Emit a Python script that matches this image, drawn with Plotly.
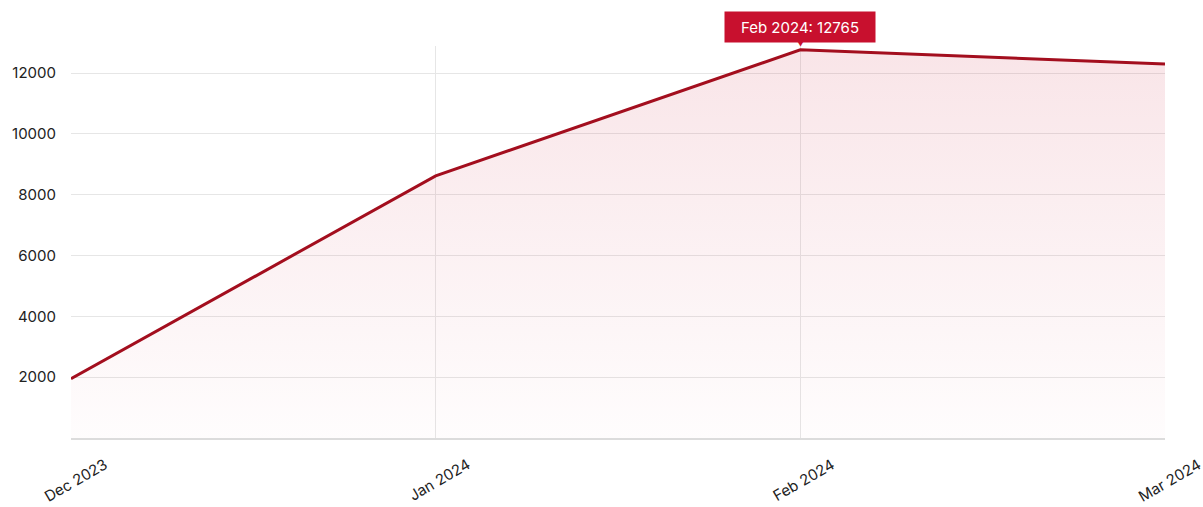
import plotly.graph_objects as go

months = ["Dec 2023", "Jan 2024", "Feb 2024", "Mar 2024"]
values = [1950, 8620, 12765, 12300]
y_ticks = [2000, 4000, 6000, 8000, 10000, 12000]

LINE = "#a30e1e"
TIP = "#c8102e"
FONT = "Inter, Open Sans, sans-serif"

fig = go.Figure()
fig.add_trace(go.Scatter(
    x=months, y=values, mode="lines",
    line=dict(color=LINE, width=3),
    fill="tozeroy",
    fillgradient=dict(type="vertical",
                      colorscale=[[0, "rgba(200,16,46,0.01)"], [1, "rgba(200,16,46,0.11)"]]),
    hoverinfo="skip",
))

# rotated x labels centred under ticks
for m in months:
    fig.add_annotation(x=m, y=0, xref="x", yref="paper", text=m, showarrow=False,
                       textangle=-30, yanchor="top", xanchor="center", yshift=-14, xshift=4,
                       font=dict(family=FONT, size=15, color="#222"))

# tooltip
peak = max(range(len(values)), key=lambda i: values[i])
fig.add_annotation(x=months[peak], y=values[peak], xref="x", yref="y",
                   text=f"{months[peak]}: {values[peak]}", showarrow=False,
                   yanchor="bottom", yshift=7, bgcolor=TIP, borderpad=6,
                   width=138, height=18,
                   font=dict(family=FONT, size=15, color="white"))
fig.add_annotation(x=months[peak], y=values[peak], xref="x", yref="y",
                   text="▼", showarrow=False, yanchor="bottom", yshift=-1,
                   font=dict(size=11, color=TIP))

fig.update_layout(
    width=1203, height=507,
    margin=dict(l=71, r=38, t=46, b=69),
    paper_bgcolor="white", plot_bgcolor="white",
    showlegend=False,
    font=dict(family=FONT, size=15, color="#222"),
    xaxis=dict(type="category", range=[0, 3], showticklabels=False,
               showgrid=True, gridcolor="#e6e6e6", gridwidth=1,
               showline=True, linecolor="#dcdcdc", linewidth=2, zeroline=False,
               ticks=""),
    yaxis=dict(range=[0, 12890], tickvals=y_ticks, tickformat="d",
               showgrid=True, gridcolor="#e6e6e6", gridwidth=1,
               zeroline=False, showline=False, ticks="", ticklabelstandoff=14,
               tickfont=dict(family=FONT, size=15, color="#222")),
)

fig.write_html("out.html", config={"displayModeBar": False},
               post_script="document.body.style.margin='0';document.body.style.overflow='hidden';")
